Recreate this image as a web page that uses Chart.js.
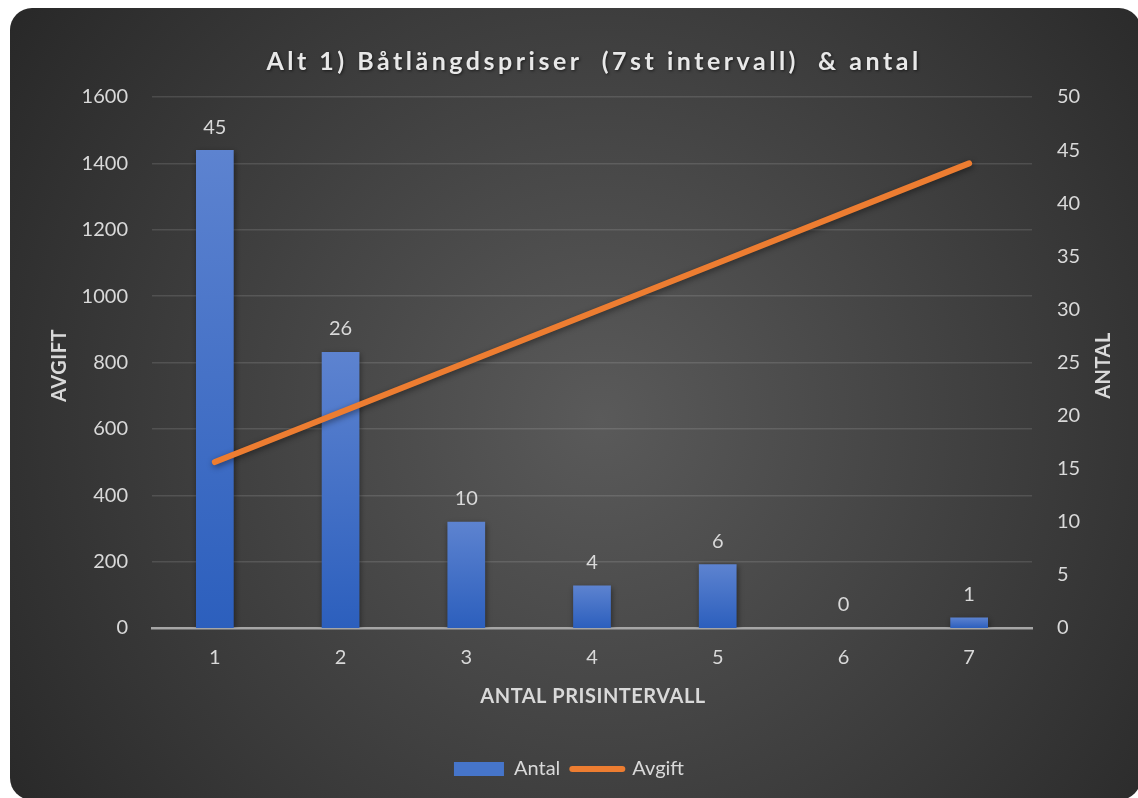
<!DOCTYPE html>
<html>
<head>
<meta charset="utf-8">
<script src="https://cdn.jsdelivr.net/npm/chart.js@4.4.1/dist/chart.umd.min.js"></script>
<style>
  html, body { margin: 0; padding: 0; background: #fff; }
  canvas { display: block; }
</style>
</head>
<body>
<canvas id="chart" width="1138" height="798"></canvas>
<script>
// data
const categories = ["1", "2", "3", "4", "5", "6", "7"];
const antal = [45, 26, 10, 4, 6, 0, 1];
const avgift = [500, 650, 800, 950, 1100, 1250, 1400];
const titleText = "Alt 1) Båtlängdspriser  (7st intervall)  & antal";
const xTitle = "ANTAL PRISINTERVALL";
const leftTitle = "AVGIFT";
const rightTitle = "ANTAL";

const FONT = "Lato, 'Open Sans', sans-serif";
const TXT = "#d9d9d9";

function barFill(c){
  const chart = c.chart;
  const ys = chart.scales && chart.scales.y2;
  if(!chart.chartArea || !ys) return "#4472c4";
  const top = ys.getPixelForValue(c.raw), bot = ys.getPixelForValue(0);
  if(bot - top < 1) return "#4472c4";
  const g = chart.ctx.createLinearGradient(0, top, 0, bot);
  g.addColorStop(0, "#5d83d0");
  g.addColorStop(1, "#2c5fbd");
  return g;
}

const decor = {
  id: "decor",
  beforeDraw(chart){
    const ctx = chart.ctx;
    ctx.save();
    ctx.fillStyle = "#fff";
    ctx.fillRect(0, 0, chart.width, chart.height);
    const g = ctx.createRadialGradient(600, 420, 0, 600, 420, 760);
    g.addColorStop(0, "#5a5a5a");
    g.addColorStop(1, "#252525");
    ctx.fillStyle = g;
    ctx.beginPath();
    ctx.roundRect(10, 8, 1131, 792, 22);
    ctx.fill();
    ctx.restore();
  },
  beforeDatasetDraw(chart){
    const ctx = chart.ctx;
    ctx.save();
    ctx.shadowColor = "rgba(0,0,0,0.45)";
    ctx.shadowBlur = 6;
    ctx.shadowOffsetX = 1;
    ctx.shadowOffsetY = 2;
  },
  afterDatasetDraw(chart){
    chart.ctx.restore();
  },
  afterDatasetsDraw(chart){
    const ctx = chart.ctx;
    const meta = chart.getDatasetMeta(0);
    ctx.save();
    ctx.font = `20px ${FONT}`;
    ctx.fillStyle = TXT;
    ctx.textAlign = "center";
    ctx.textBaseline = "bottom";
    meta.data.forEach((el, i) => {
      ctx.fillText(String(antal[i]), el.x, el.y - 13);
    });
    ctx.restore();
  },
  afterDraw(chart){
    const ctx = chart.ctx;
    const area = chart.chartArea;
    const cx = (area.left + area.right) / 2;
    const cy = (area.top + area.bottom) / 2;
    ctx.save();
    ctx.textAlign = "center";
    ctx.textBaseline = "middle";
    // chart title
    ctx.shadowColor = "rgba(0,0,0,0.6)";
    ctx.shadowBlur = 3;
    ctx.shadowOffsetX = 1;
    ctx.shadowOffsetY = 1;
    ctx.fillStyle = "#e8e8e8";
    ctx.font = `bold 25px ${FONT}`;
    ctx.letterSpacing = "3.5px";
    ctx.fillText(titleText, cx + 2, 62);
    ctx.letterSpacing = "0px";
    ctx.shadowColor = "transparent";
    // axis titles
    ctx.fillStyle = TXT;
    ctx.font = `bold 20px ${FONT}`;
    ctx.letterSpacing = "0.5px";
    ctx.fillText(xTitle, cx + 1, 697);
    ctx.save();
    ctx.translate(60, cy + 3);
    ctx.rotate(-Math.PI / 2);
    ctx.fillText(leftTitle, 0, 0);
    ctx.restore();
    ctx.save();
    ctx.translate(1104, cy + 3);
    ctx.rotate(-Math.PI / 2);
    ctx.fillText(rightTitle, 0, 0);
    ctx.restore();
    ctx.restore();
  }
};

const tickFont = { family: FONT, size: 20 };

new Chart(document.getElementById("chart"), {
  data: {
    labels: categories,
    datasets: [
      {
        type: "bar", label: "Antal", data: antal, yAxisID: "y2", order: 2,
        backgroundColor: barFill, barPercentage: 0.3, categoryPercentage: 1
      },
      {
        type: "line", label: "Avgift", data: avgift, yAxisID: "y", order: 1,
        borderColor: "#ed7d31", borderWidth: 6, borderCapStyle: "round",
        pointRadius: 0, tension: 0, fill: false
      }
    ]
  },
  options: {
    responsive: false,
    animation: false,
    layout: { padding: { left: 10, right: 10, top: 97, bottom: 9 } },
    plugins: {
      title: { display: false },
      tooltip: { enabled: false },
      legend: {
        position: "bottom",
        labels: {
          color: TXT, font: tickFont, usePointStyle: true, pointStyleWidth: 50,
          boxHeight: 14, padding: 12,
          generateLabels: () => [
            { text: "Antal", fillStyle: "#4675ca", strokeStyle: "#4675ca", lineWidth: 0,
              pointStyle: "rect", datasetIndex: 0, hidden: false, fontColor: TXT },
            { text: "Avgift", fillStyle: "#ed7d31", strokeStyle: "#ed7d31", lineWidth: 6,
              lineCap: "round", pointStyle: "line", datasetIndex: 1, hidden: false, fontColor: TXT }
          ]
        }
      }
    },
    scales: {
      x: {
        grid: { display: false, drawTicks: false },
        border: { display: true, color: "#a6a6a6", width: 2.5 },
        ticks: { color: TXT, font: tickFont, padding: 18 },
        afterFit(s){ s.height = 119; }
      },
      y: {
        position: "left", min: 0, max: 1600,
        ticks: { stepSize: 200, color: TXT, font: tickFont, padding: 24, callback: v => String(v) },
        grid: { color: "rgba(255,255,255,0.12)", lineWidth: 1.5, drawTicks: false },
        border: { display: false },
        afterFit(s){ s.width = 142; }
      },
      y2: {
        position: "right", min: 0, max: 50,
        ticks: { stepSize: 5, color: TXT, font: tickFont, padding: 25, callback: v => String(v) },
        grid: { display: false, drawTicks: false },
        border: { display: false },
        afterFit(s){ s.width = 96; }
      }
    }
  },
  plugins: [decor]
});
</script>
</body>
</html>
